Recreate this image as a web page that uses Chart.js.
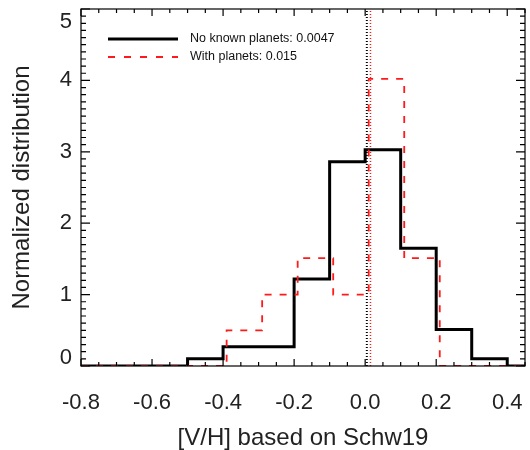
<!DOCTYPE html>
<html>
<head>
<meta charset="utf-8">
<script src="https://cdn.jsdelivr.net/npm/chart.js@4.4.1/dist/chart.umd.min.js"></script>
<style>
  body { margin: 0; background: #fff; }
</style>
</head>
<body>
<canvas id="myChart" width="530" height="450"></canvas>
<script>
// Tick labels
var xTicks = [-0.8, -0.6, -0.4, -0.2, 0.0, 0.2, 0.4];
var yTicks = [0, 1, 2, 3, 4, 5];
// Histogram bin edges and heights (last value repeats to close the step)
var noPlanetEdges = [-0.8, -0.5, -0.4, -0.3, -0.2, -0.1, 0.0, 0.1, 0.2, 0.3, 0.4, 0.45];
var noPlanetValues = [0, 0.1, 0.27, 0.27, 1.22, 2.86, 3.03, 1.65, 0.51, 0.1, 0, 0];
var planetEdges = [-0.8, -0.39, -0.29, -0.19, -0.09, 0.01, 0.11, 0.21, 0.45];
var planetValues = [0, 0.5, 1.0, 1.51, 1.0, 4.02, 1.51, 0, 0];
// Mean values shown as dotted lines
var means = [0.0047, 0.015];
var labels = ["No known planets: 0.0047", "With planets: 0.015"];

var xMin = -0.8, xMax = 0.45, yMin = 0, yMax = 5;
var font = "'Liberation Sans', Arial, Helvetica, sans-serif";

function toPoints(edges, values) {
  return edges.map(function (e, i) { return { x: e, y: values[i] }; });
}

// IDL-style frame, inward ticks and all the text
var idlAxes = {
  id: 'idlAxes',
  afterDraw: function (chart) {
    var ctx = chart.ctx;
    var a = chart.chartArea;
    var xs = chart.scales.x, ys = chart.scales.y;
    ctx.save();
    ctx.strokeStyle = '#000';
    ctx.lineWidth = 1.2;
    ctx.strokeRect(a.left, a.top, a.right - a.left, a.bottom - a.top);

    ctx.beginPath();
    // x ticks: major every 0.2, minor every 0.05
    for (var i = 0; i <= 25; i++) {
      var v = xMin + i * 0.05;
      if (v > xMax + 1e-9) break;
      var px = xs.getPixelForValue(v);
      var len = (i % 4 === 0) ? 7 : 4;
      ctx.moveTo(px, a.bottom); ctx.lineTo(px, a.bottom - len);
      ctx.moveTo(px, a.top); ctx.lineTo(px, a.top + len);
    }
    // y ticks: major every 1, minor every 0.1
    for (var j = 0; j <= 50; j++) {
      var py = ys.getPixelForValue(yMin + j * 0.1);
      var ylen = (j % 10 === 0) ? 9 : 5;
      ctx.moveTo(a.left, py); ctx.lineTo(a.left + ylen, py);
      ctx.moveTo(a.right, py); ctx.lineTo(a.right - ylen, py);
    }
    ctx.stroke();

    ctx.fillStyle = '#222';
    ctx.font = '22px ' + font;
    ctx.textAlign = 'center';
    ctx.textBaseline = 'middle';
    xTicks.forEach(function (v) {
      ctx.fillText(v.toFixed(1), xs.getPixelForValue(v), a.bottom + 37);
    });
    ctx.textAlign = 'right';
    yTicks.forEach(function (v) {
      var py = ys.getPixelForValue(v);
      if (v === yMin) py -= 8;
      if (v === yMax) py += 13;
      ctx.fillText(String(v), a.left - 9, py);
    });

    ctx.font = '24px ' + font;
    ctx.textAlign = 'center';
    ctx.fillText('[V/H] based on Schw19', (a.left + a.right) / 2, a.bottom + 72);
    ctx.save();
    ctx.translate(22, (a.top + a.bottom) / 2);
    ctx.rotate(-Math.PI / 2);
    ctx.fillText('Normalized distribution', 0, 0);
    ctx.restore();

    // legend
    var lx = a.left + 27, ly = a.top + 30;
    ctx.lineWidth = 3;
    ctx.strokeStyle = '#000';
    ctx.beginPath(); ctx.moveTo(lx, ly); ctx.lineTo(lx + 70, ly); ctx.stroke();
    ctx.lineWidth = 1.8;
    ctx.strokeStyle = '#ff1a1a';
    ctx.setLineDash([7, 9]);
    ctx.beginPath(); ctx.moveTo(lx, ly + 18); ctx.lineTo(lx + 70, ly + 18); ctx.stroke();
    ctx.setLineDash([]);
    ctx.font = '12.5px ' + font;
    ctx.textAlign = 'left';
    ctx.fillStyle = '#111';
    ctx.fillText(labels[0], lx + 82, ly);
    ctx.fillText(labels[1], lx + 82, ly + 18);
    ctx.restore();
  }
};

var ctx = document.getElementById("myChart");

var myChart = new Chart(ctx, {
  type: 'line',
  data: {
    datasets: [
      {
        data: toPoints(planetEdges, planetValues),
        borderColor: "#ff1a1a",
        borderWidth: 1.8,
        borderDash: [7, 8],
        stepped: 'before',
        order: 0
      },
      {
        data: toPoints(noPlanetEdges, noPlanetValues),
        borderColor: "#000",
        borderWidth: 3,
        stepped: 'before',
        order: 1
      },
      {
        data: [{ x: means[0], y: yMin }, { x: means[0], y: yMax }],
        borderColor: "#000",
        borderWidth: 2,
        borderDash: [1, 2],
        order: 2
      },
      {
        data: [{ x: means[1], y: yMin }, { x: means[1], y: yMax }],
        borderColor: "#ff1a1a",
        borderWidth: 1.5,
        borderDash: [1, 2],
        order: 2
      }
    ]
  },
  options: {
    responsive: false,
    animation: false,
    devicePixelRatio: 1,
    layout: { padding: { left: 81, right: 5, top: 9, bottom: 84 } },
    elements: { point: { radius: 0 }, line: { fill: false, tension: 0, borderJoinStyle: 'miter' } },
    plugins: { legend: { display: false }, tooltip: { enabled: false } },
    scales: {
      x: { type: 'linear', min: xMin, max: xMax, display: false },
      y: { type: 'linear', min: yMin, max: yMax, display: false }
    }
  },
  plugins: [idlAxes]
});
</script>
</body>
</html>
